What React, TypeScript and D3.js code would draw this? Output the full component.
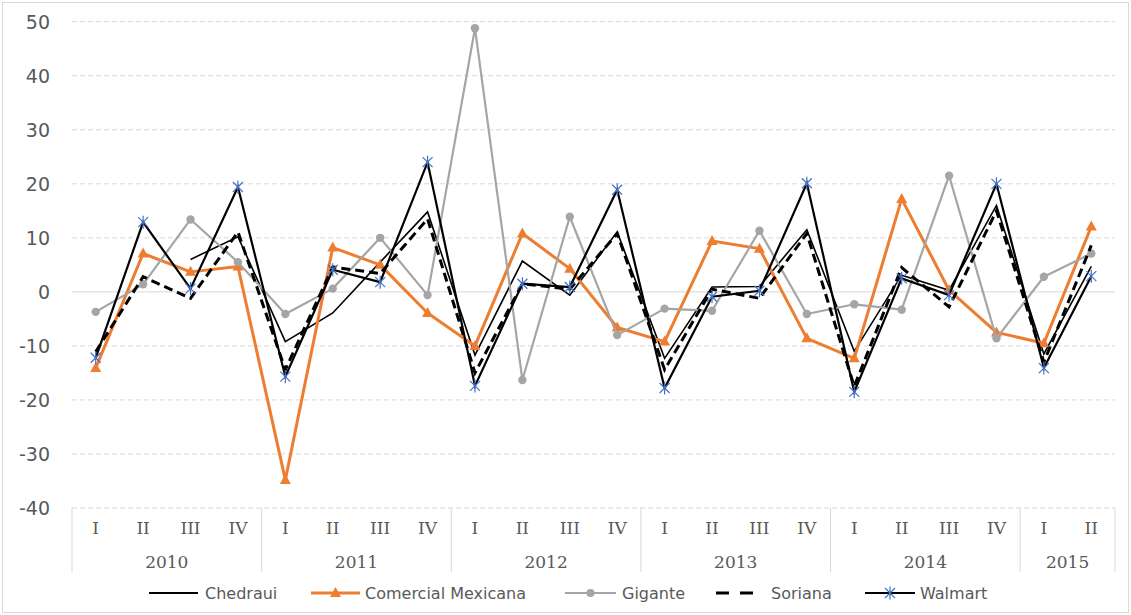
import React from "react";
import * as d3 from "d3";

const years = ["2010", "2011", "2012", "2013", "2014", "2015"];
const quartersPerYear = [4, 4, 4, 4, 4, 2];
const quarterNames = ["I", "II", "III", "IV"];
const yTicks = [-40, -30, -20, -10, 0, 10, 20, 30, 40, 50];

const chedraui = [null, null, 6.0, 10.2, -9.2, -3.9, 5.5, 14.8, -11.7, 5.7, -0.6, 11.1, -12.3, 0.9, 1.0, 11.5, -11.0, 3.1, 0.3, 16.0, -11.5, 4.7];
const comercial = [-14.1, 7.1, 3.7, 4.7, -34.8, 8.2, 5.0, -3.9, -10.0, 10.8, 4.3, -6.6, -9.2, 9.4, 8.0, -8.6, -12.3, 17.2, 0.3, -7.5, -9.5, 12.1];
const gigante = [-3.7, 1.4, 13.4, 5.5, -4.1, 0.6, 10.0, -0.6, 48.8, -16.3, 13.9, -8.0, -3.1, -3.5, 11.3, -4.1, -2.3, -3.3, 21.5, -8.6, 2.8, 7.1];
const soriana = [-11.1, 2.8, -1.2, 11.1, -14.4, 4.6, 3.4, 13.5, -15.0, 1.5, 0.5, 10.8, -14.4, 0.5, -1.2, 10.8, -17.5, 4.5, -2.8, 15.0, -13.0, 8.6];
const walmart = [-12.2, 12.9, 0.6, 19.4, -15.7, 4.1, 1.8, 24.0, -17.4, 1.5, 0.9, 18.9, -17.8, -0.9, 0.2, 20.1, -18.5, 2.5, -0.6, 20.0, -14.1, 2.9];

const seriesNames = ["Chedraui", "Comercial Mexicana", "Gigante", "Soriana", "Walmart"];

const categories: { q: string; year: string; yi: number }[] = [];
years.forEach((yr, yi) => {
  for (let k = 0; k < quartersPerYear[yi]; k++) categories.push({ q: quarterNames[k], year: yr, yi });
});

const ORANGE = "#ED7D31";
const GRAY = "#A5A5A5";
const BLUE = "#4472C4";
const TEXT = "#595959";
const GRID = "#D9D9D9";

const starPath = "M-5,-5L5,5M-5,5L5,-5M0,-6.5L0,6.5";
const triPath = "M0,-6L5.5,4L-5.5,4Z";

export default function App() {
  const left = 72, right = 1115, top = 21.7, bottom = 508;
  const x = d3.scaleBand<number>().domain(categories.map((_, i) => i)).range([left, right]);
  const y = d3.scaleLinear().domain([-40, 50]).range([bottom, top]);
  const cx = (i: number) => (x(i) as number) + x.bandwidth() / 2;

  const line = d3
    .line<number | null>()
    .defined((d) => d !== null)
    .x((_, i) => cx(i))
    .y((d) => y(d as number));

  // year group boundaries
  const bounds: number[] = [];
  let acc = 0;
  bounds.push(left);
  quartersPerYear.forEach((n) => {
    acc += n;
    bounds.push(acc >= categories.length ? right : (x(acc) as number));
  });

  const legendY = 593;
  const legendItems = [
    { name: seriesNames[0], x1: 149, x2: 198, tx: 205 },
    { name: seriesNames[1], x1: 311, x2: 360, tx: 365 },
    { name: seriesNames[2], x1: 565, x2: 616, tx: 622 },
    { name: seriesNames[3], x1: 716, x2: 753, tx: 771 },
    { name: seriesNames[4], x1: 865, x2: 915, tx: 920 },
  ];

  return (
    <svg width={1131} height={615} style={{ position: "absolute", left: 0, top: 0, background: "#fff" }}>
      <rect x={2.5} y={2.5} width={1126} height={610} fill="#fff" stroke={GRID} strokeWidth={1} />
      {/* gridlines */}
      {yTicks.map((t) => (
        <line
          key={t}
          x1={left}
          x2={right}
          y1={y(t)}
          y2={y(t)}
          stroke={GRID}
          strokeWidth={1}
          strokeDasharray={t === 0 ? undefined : "5,3"}
        />
      ))}
      {yTicks.map((t) => (
        <text
          key={"l" + t}
          x={50}
          y={y(t)}
          textAnchor="end"
          dominantBaseline="central"
          fontFamily="DejaVu Sans"
          fontSize={19}
          fill={TEXT}
        >
          {t}
        </text>
      ))}
      {/* category axis separators */}
      {bounds.map((b, i) => (
        <line key={"b" + i} x1={b} x2={b} y1={bottom} y2={572} stroke={GRID} strokeWidth={1} />
      ))}
      {categories.map((c, i) => (
        <text
          key={"q" + i}
          x={cx(i)}
          y={528}
          textAnchor="middle"
          dominantBaseline="central"
          fontFamily="DejaVu Serif"
          fontSize={17}
          fill={TEXT}
        >
          {c.q}
        </text>
      ))}
      {years.map((yr, i) => (
        <text
          key={yr}
          x={(bounds[i] + bounds[i + 1]) / 2}
          y={562}
          textAnchor="middle"
          dominantBaseline="central"
          fontFamily="DejaVu Serif"
          fontSize={17}
          fill={TEXT}
        >
          {yr}
        </text>
      ))}

      {/* series */}
      <path d={line(chedraui) || ""} fill="none" stroke="#000" strokeWidth={1.6} />
      <path d={line(comercial) || ""} fill="none" stroke={ORANGE} strokeWidth={3} strokeLinejoin="round" />
      {comercial.map((v, i) => (
        <path key={"t" + i} d={triPath} transform={`translate(${cx(i)},${y(v)})`} fill={ORANGE} />
      ))}
      <path d={line(gigante) || ""} fill="none" stroke={GRAY} strokeWidth={2.2} strokeLinejoin="round" />
      {gigante.map((v, i) => (
        <circle key={"g" + i} cx={cx(i)} cy={y(v)} r={4.2} fill={GRAY} />
      ))}
      <path d={line(soriana) || ""} fill="none" stroke="#000" strokeWidth={3} strokeDasharray="9,5" />
      <path d={line(walmart) || ""} fill="none" stroke="#000" strokeWidth={2.2} />
      {walmart.map((v, i) => (
        <path key={"w" + i} d={starPath} transform={`translate(${cx(i)},${y(v)})`} stroke={BLUE} strokeWidth={1.2} fill="none" />
      ))}

      {/* legend */}
      <line x1={legendItems[0].x1} x2={legendItems[0].x2} y1={legendY} y2={legendY} stroke="#000" strokeWidth={1.8} />
      <line x1={legendItems[1].x1} x2={legendItems[1].x2} y1={legendY} y2={legendY} stroke={ORANGE} strokeWidth={3} />
      <path d={triPath} transform={`translate(${(legendItems[1].x1 + legendItems[1].x2) / 2},${legendY})`} fill={ORANGE} />
      <line x1={legendItems[2].x1} x2={legendItems[2].x2} y1={legendY} y2={legendY} stroke={GRAY} strokeWidth={2.2} />
      <circle cx={(legendItems[2].x1 + legendItems[2].x2) / 2} cy={legendY} r={4} fill={GRAY} />
      <line x1={legendItems[3].x1} x2={legendItems[3].x2} y1={legendY} y2={legendY} stroke="#000" strokeWidth={3} strokeDasharray="13,11" />
      <line x1={legendItems[4].x1} x2={legendItems[4].x2} y1={legendY} y2={legendY} stroke="#000" strokeWidth={2.2} />
      <path d={starPath} transform={`translate(${(legendItems[4].x1 + legendItems[4].x2) / 2},${legendY})`} stroke={BLUE} strokeWidth={1.2} fill="none" />
      {legendItems.map((it) => (
        <text
          key={it.name}
          x={it.tx}
          y={legendY}
          dominantBaseline="central"
          fontFamily="DejaVu Sans"
          fontSize={16}
          fill={TEXT}
        >
          {it.name}
        </text>
      ))}
    </svg>
  );
}
